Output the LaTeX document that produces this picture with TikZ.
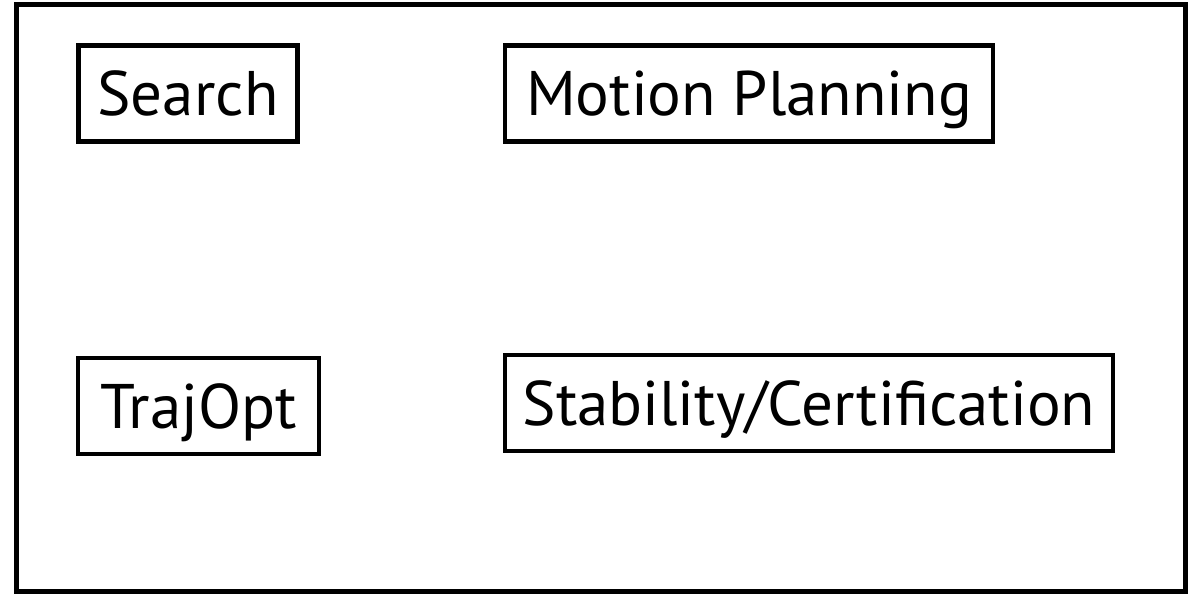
\documentclass[tikz,border=0pt]{standalone}
\usepackage{fontspec}
\setmainfont{PT Sans}
\begin{document}
\begin{tikzpicture}[x=1pt,y=-1pt,
  box/.style={draw=black,line width=4.5pt,inner sep=0pt,font=\fontsize{63}{63}\selectfont,text height=44pt,text depth=0pt},
]
\useasboundingbox (0,0) rectangle (1202,595);
\fill[white] (0,0) rectangle (1202,595);
\node[draw=black,line width=5pt,minimum width=1169pt,minimum height=587pt,inner sep=0pt] (frame) at (600.5,297.5) {};
\node[box,minimum width=219pt,minimum height=96pt] (search) at (188,93.5) {Search};
\node[box,minimum width=488pt,minimum height=96pt] (motion) at (749,93.5) {Motion Planning};
\node[box,minimum width=241pt,minimum height=96pt] (trajopt) at (198.5,406) {TrajOpt};
\node[box,minimum width=608pt,minimum height=96pt] (stab) at (809,403) {Stability/Certification};
\end{tikzpicture}
\end{document}
